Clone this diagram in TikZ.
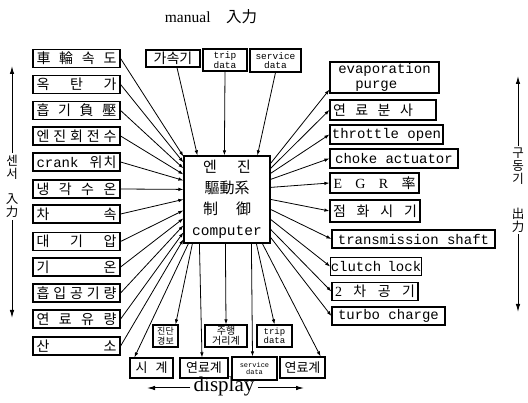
\documentclass[tikz,border=0pt]{standalone}
\usepackage{fontspec}
\setmainfont{Liberation Serif}
\newfontfamily\kr{Noto Sans CJK KR}
\newfontfamily\mono{Liberation Mono}
\usetikzlibrary{arrows.meta,calc}
\newcommand\spr[2]{\hbox to #1{#2}}
\begin{document}
\begin{tikzpicture}[x=1pt,y=-1pt,
  bx/.style={draw,line width=1.2pt,inner sep=0pt},
  lbox/.style={bx,minimum width=87pt,minimum height=18pt,font=\kr\fontsize{14}{16}\selectfont},
  rbox/.style={bx,minimum height=20pt,font=\mono\fontsize{14}{15}\selectfont},
  rkbox/.style={bx,minimum height=20pt,font=\kr\fontsize{14}{16}\selectfont},
  conn/.style={line width=0.8pt,-{Latex[length=5pt,width=3.5pt]}},
  varrow/.style={line width=1pt,-{Latex[length=8pt,width=4.5pt]}},
  lab/.style={inner sep=2pt,align=center,font=\kr\fontsize{12.5}{13}\selectfont}]
\useasboundingbox (0,0) rectangle (528,403);

% title
\node (title) at (211,17) {\fontsize{15.5}{17}\selectfont manual\quad{\kr 入力}};

% central computer
\node[bx,minimum width=86pt,minimum height=87pt,align=center,
      font=\kr\fontsize{15}{21}\selectfont] (ecu) at (227,199.5)
  {\spr{48pt}{엔\hfill 진}\\驅動系\\\spr{48pt}{制\hfill 御}\\{\mono\fontsize{14.5}{21}\selectfont computer}};

% left sensor boxes
\node[lbox] (wheel) at (76.5,58.5) {\spr{80pt}{車\hfill 輪\hfill 속\hfill 도}};
\node[lbox] (oct)   at (76.5,84.5) {\spr{80pt}{옥\hfill 탄\hfill 가}};
\node[lbox] (vac)   at (76.5,110.5) {\spr{80pt}{흡\hfill 기\hfill 負\hfill 壓}};
\node[lbox] (rpm)   at (76.5,136) {\spr{80pt}{엔\hfill 진\hfill 회\hfill 전\hfill 수}};
\node[lbox] (crank) at (76.5,162) {\spr{80pt}{{\mono\fontsize{14}{16}\selectfont crank}\hfill 위\hspace{1pt}치}};
\node[lbox] (cool)  at (76.5,189) {\spr{80pt}{냉\hfill 각\hfill 수\hfill 온}};
\node[lbox] (speed) at (76.5,214) {\spr{80pt}{차\hfill 속}};
\node[lbox] (atm)   at (76.5,241.5) {\spr{80pt}{대\hfill 기\hfill 압}};
\node[lbox] (temp)  at (76.5,267) {\spr{80pt}{기\hfill 온}};
\node[lbox] (air)   at (76.5,293) {\spr{80pt}{흡\hfill 입\hfill 공\hfill 기\hfill 량}};
\node[lbox] (fuelf) at (76.5,319) {\spr{80pt}{연\hfill 료\hfill 유\hfill 량}};
\node[lbox] (oxy)   at (76.5,346) {\spr{80pt}{산\hfill 소}};

% top manual boxes
\node[bx,minimum width=54pt,minimum height=17pt,font=\kr\fontsize{14}{16}\selectfont] (acc) at (173,58.5) {가속기};
\node[bx,minimum width=44pt,minimum height=22pt,align=center,font=\mono\fontsize{9.5}{9.5}\selectfont] (tript) at (225,60) {trip\\data};
\node[bx,minimum width=51pt,minimum height=23pt,align=center,font=\mono\fontsize{9.5}{9.5}\selectfont] (servt) at (275.5,60.5) {service\\data};

% right output boxes
\node[rbox,minimum width=109pt,minimum height=31pt,align=left] (evap) at (384.5,77.5) {evaporation\\\hspace*{17pt}purge};
\node[rkbox,minimum width=106pt] (inj) at (383,110) {\spr{100pt}{연\hfill 료\hfill 분\hfill 사\hspace*{20pt}}};
\node[rbox,minimum width=113pt,minimum height=19pt] (thr) at (386.5,134.5) {throttle open};
\node[rbox,minimum width=128pt,minimum height=19pt] (choke) at (394,158.5) {choke actuator};
\node[rkbox,minimum width=89pt] (egr) at (374.5,183) {\spr{82pt}{{\rmfamily E}\hfill{\rmfamily G}\hfill{\rmfamily R}\hfill 率}};
\node[rkbox,minimum width=90pt,minimum height=22pt] (ign) at (375,211) {\spr{84pt}{점\hfill 화\hfill 시\hfill 기}};
\node[rbox,minimum width=163pt,minimum height=18pt] (trans) at (413.5,239) {transmission shaft};
\node[rbox,minimum width=88pt,minimum height=18pt] (clutch) at (376,266.5) {clutch\kern-2pt\ lock};
\node[rkbox,minimum width=86pt,minimum height=18pt] (air2) at (375,291.5) {\spr{80pt}{{\rmfamily 2}\hfill 차\hfill 공\hfill 기}};
\node[rbox,minimum width=113pt,minimum height=18pt] (turbo) at (388.5,316) {turbo charge};

% bottom display boxes
\node[bx,minimum width=25pt,minimum height=22pt,align=center,font=\kr\fontsize{9}{9.5}\selectfont] (diag) at (165.5,336) {진단\\경보};
\node[bx,minimum width=42pt,minimum height=22pt,align=center,font=\kr\fontsize{10}{10.5}\selectfont] (odo) at (226,336) {주행\\거리계};
\node[bx,minimum width=35pt,minimum height=22pt,align=center,font=\mono\fontsize{9}{9}\selectfont] (tripb) at (274.5,336) {trip\\data};
\node[bx,minimum width=43pt,minimum height=20pt,font=\kr\fontsize{13}{15}\selectfont] (clock) at (151.5,368) {\spr{32pt}{시\hfill 계}};
\node[bx,minimum width=48pt,minimum height=20pt,font=\kr\fontsize{13}{15}\selectfont] (fuel1) at (204,368) {연료계};
\node[bx,minimum width=45pt,minimum height=23pt,align=center,font=\mono\fontsize{7}{7.5}\selectfont] (sdb) at (254.5,368.5) {service\\data};
\node[bx,minimum width=45pt,minimum height=21pt,font=\kr\fontsize{13}{15}\selectfont] (fuel2) at (302.5,367.5) {연료계};

% display label
\node[inner sep=3pt,font=\fontsize{21}{23}\selectfont] (disp) at (224,386) {display};
\coordinate (dl) at (147,388);
\coordinate (dr) at (304,388);
\draw[varrow] ($(disp.west)+(0,2)$) -- (dl);
\draw[varrow] ($(disp.east)+(0,2)$) -- (dr);

% side labels
\node[lab] (sen) at (12,167) {센\\서};
\node[lab] (ipl) at (12,206) {入\\力};
\coordinate (ltop) at (12,66);
\coordinate (lbot) at (12,318);
\draw[varrow] (sen.north) -- (ltop);
\draw[varrow] (ipl.south) -- (lbot);
\node[lab] (gu) at (518,166) {구\\동\\기};
\node[lab] (outl) at (518,220) {出\\力};
\coordinate (rtop) at (518,76);
\coordinate (rbot) at (518,312);
\draw[varrow] (gu.north) -- (rtop);
\draw[varrow] (outl.south) -- (rbot);

% inputs -> computer
\draw[conn] (wheel.east) -- ($(ecu.north west)+(0,1)$);
\draw[conn] (oct.east)   -- ($(ecu.north west)+(0,7)$);
\draw[conn] (vac.east)   -- ($(ecu.north west)+(0,13)$);
\draw[conn] (rpm.east)   -- ($(ecu.north west)+(0,19)$);
\draw[conn] (crank.east) -- ($(ecu.north west)+(0,25)$);
\draw[conn] (cool.east)  -- ($(ecu.north west)+(0,34)$);
\draw[conn] (speed.east) -- ($(ecu.north west)+(0,44)$);
\draw[conn] (atm.east)   -- ($(ecu.north west)+(0,55)$);
\draw[conn] (temp.east)  -- ($(ecu.north west)+(0,63)$);
\draw[conn] (air.east)   -- ($(ecu.north west)+(0,70)$);
\draw[conn] (fuelf.east) -- ($(ecu.north west)+(0,77)$);
\draw[conn] (oxy.east)   -- ($(ecu.north west)+(0,84)$);

% manual inputs
\draw[conn] ($(acc.south)+(4,0)$) -- ($(ecu.north west)+(14,0)$);
\draw[conn] (tript.south) -- ($(ecu.north west)+(41,0)$);
\draw[conn] (servt.south) -- ($(ecu.north west)+(74,0)$);

% outputs
\draw[conn] ($(ecu.north east)+(0,8)$)  -- ($(evap.south west)+(0,-4)$);
\draw[conn] ($(ecu.north east)+(0,13)$) -- (inj.west);
\draw[conn] ($(ecu.north east)+(0,18)$) -- (thr.west);
\draw[conn] ($(ecu.north east)+(0,24)$) -- (choke.west);
\draw[conn] ($(ecu.north east)+(0,32)$) -- (egr.west);
\draw[conn] ($(ecu.north east)+(0,44)$) -- (ign.west);
\draw[conn] ($(ecu.north east)+(0,54)$) -- (trans.west);
\draw[conn] ($(ecu.north east)+(0,64)$) -- (clutch.west);
\draw[conn] ($(ecu.north east)+(0,74)$) -- (air2.west);
\draw[conn] ($(ecu.north east)+(0,82)$) -- (turbo.west);

% displays
\draw[conn] ($(ecu.south west)+(5,0)$)  -- ($(clock.north west)+(5,0)$);
\draw[conn] ($(ecu.south west)+(9,0)$)  -- ($(diag.north east)+(-3,0)$);
\draw[conn] ($(ecu.south west)+(16,0)$) -- ($(fuel1.north)+(-2,0)$);
\draw[conn] ($(ecu.south west)+(42,0)$) -- (odo.north);
\draw[conn] ($(ecu.south west)+(68,0)$) -- ($(sdb.north)+(-2,0)$);
\draw[conn] ($(ecu.south west)+(73,0)$) -- (tripb.north);
\draw[conn] ($(ecu.south west)+(79,0)$) -- ($(fuel2.north east)+(-5,0)$);
\end{tikzpicture}
\end{document}
